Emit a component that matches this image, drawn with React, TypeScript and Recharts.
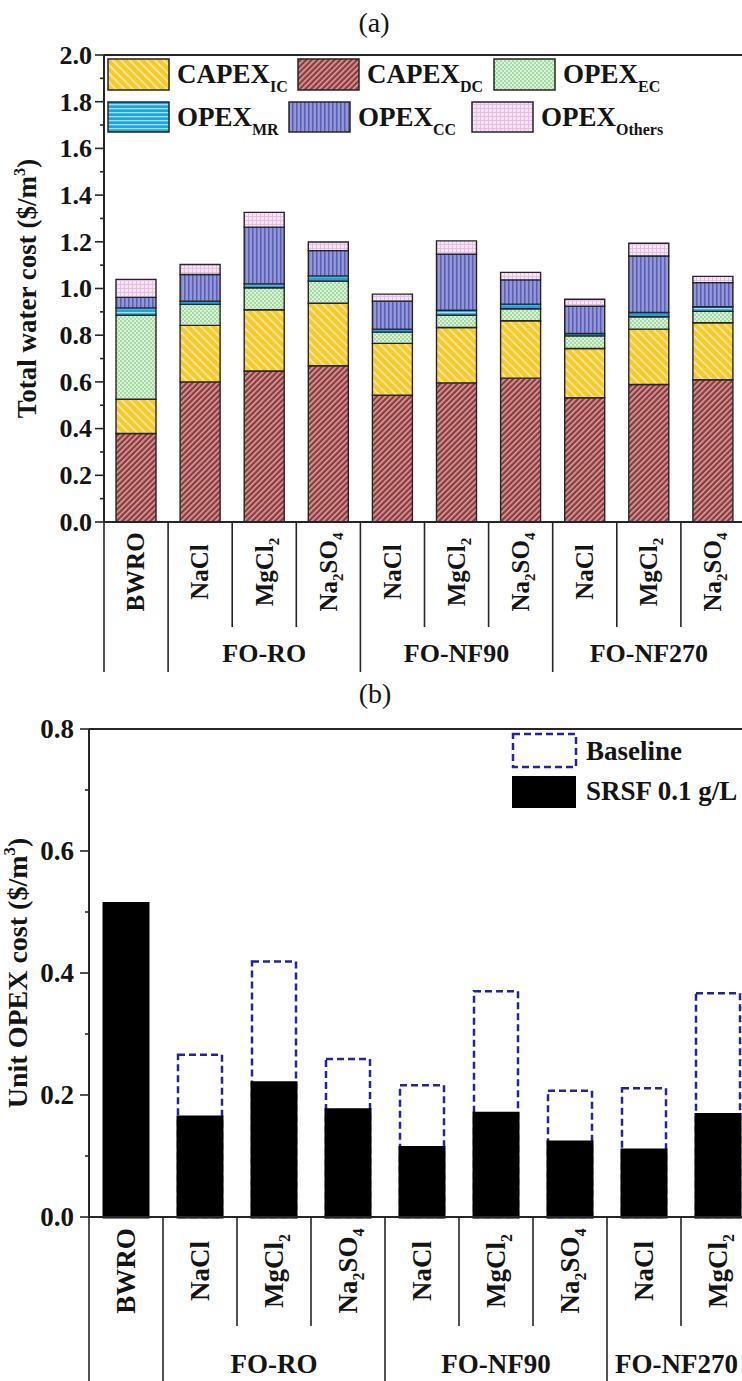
import React from 'react';
import { BarChart, Bar, XAxis, YAxis, ReferenceLine, Legend } from 'recharts';

const FONT = "'Liberation Serif', 'Times New Roman', Times, serif";
const INK = '#141414';
const LINE = '#262626';

// ---------------- data ----------------
const categories = ['BWRO', 'NaCl', 'MgCl2', 'Na2SO4', 'NaCl', 'MgCl2', 'Na2SO4', 'NaCl', 'MgCl2', 'Na2SO4'];
const groupLabels = ['FO-RO', 'FO-NF90', 'FO-NF270'];
const groupStarts = [1, 4, 7];

// (a) total water cost, $/m3 (stack bottom -> top)
const capexDC = [0.379, 0.600, 0.647, 0.669, 0.543, 0.596, 0.616, 0.532, 0.589, 0.609];
const capexIC = [0.147, 0.242, 0.262, 0.268, 0.222, 0.237, 0.246, 0.211, 0.237, 0.244];
const opexEC = [0.360, 0.090, 0.094, 0.095, 0.048, 0.053, 0.051, 0.054, 0.053, 0.049];
const opexMR = [0.031, 0.014, 0.017, 0.022, 0.013, 0.021, 0.020, 0.010, 0.018, 0.020];
const opexCC = [0.045, 0.114, 0.243, 0.108, 0.120, 0.240, 0.104, 0.117, 0.242, 0.103];
const opexOthers = [0.077, 0.043, 0.063, 0.037, 0.030, 0.057, 0.032, 0.030, 0.055, 0.027];

// (b) unit OPEX cost, $/m3
const opexBaseline = [null, 0.266, 0.419, 0.259, 0.216, 0.370, 0.207, 0.211, 0.367, 0.208];
const opexSRSF = [0.514, 0.164, 0.220, 0.176, 0.114, 0.170, 0.123, 0.110, 0.168, 0.122];

const yTicksA = [0.0, 0.1, 0.2, 0.3, 0.4, 0.5, 0.6, 0.7, 0.8, 0.9, 1.0, 1.1, 1.2, 1.3, 1.4, 1.5, 1.6, 1.7, 1.8, 1.9, 2.0];
const yTicksB = [0.0, 0.1, 0.2, 0.3, 0.4, 0.5, 0.6, 0.7, 0.8];

const seriesA = [
  { key: 'capexDC', main: 'CAPEX', sub: 'DC', pat: 'pat-dc' },
  { key: 'capexIC', main: 'CAPEX', sub: 'IC', pat: 'pat-ic' },
  { key: 'opexEC', main: 'OPEX', sub: 'EC', pat: 'pat-ec' },
  { key: 'opexMR', main: 'OPEX', sub: 'MR', pat: 'pat-mr' },
  { key: 'opexCC', main: 'OPEX', sub: 'CC', pat: 'pat-cc' },
  { key: 'opexOthers', main: 'OPEX', sub: 'Others', pat: 'pat-ot' },
];
const legendOrderA = ['capexIC', 'capexDC', 'opexEC', 'opexMR', 'opexCC', 'opexOthers'];

const dataA = categories.map((c, i) => ({
  id: `a${i}`,
  capexDC: capexDC[i],
  capexIC: capexIC[i],
  opexEC: opexEC[i],
  opexMR: opexMR[i],
  opexCC: opexCC[i],
  opexOthers: opexOthers[i],
}));
const dataB = categories.map((c, i) => ({ id: `b${i}`, baseline: opexBaseline[i], srsf: opexSRSF[i] }));

// ---------------- layout ----------------
const N = categories.length;
const A = { top: 55, left: 104, band: 64.1, plotH: 467, xAxisH: 150 };
const A_W = A.left + A.band * N + 12;
const A_H = A.top + A.plotH + A.xAxisH + 8;
const B = { offsetTop: 690, top: 39, left: 89, band: 74, plotH: 488, xAxisH: 180 };
const B_W = B.left + B.band * N + 12;
const B_H = B.top + B.plotH + B.xAxisH + 5;

// legend slots (chart-relative)
const legendSlotsA = [
  { x: 108, y: 59, h: 31 },
  { x: 298, y: 59, h: 31 },
  { x: 494, y: 59, h: 31 },
  { x: 108, y: 102, h: 30 },
  { x: 289, y: 102, h: 30 },
  { x: 472, y: 102, h: 30 },
];

// ---------------- helpers ----------------
function formulaSpans(text: string, subSize: number, subDy: number) {
  const parts = text.match(/[^\d]+|\d+/g) || [text];
  let down = false;
  return parts.map((p, i) => {
    const isSub = /^\d+$/.test(p);
    let dy: number | undefined;
    if (isSub && !down) { dy = subDy; down = true; }
    else if (!isSub && down) { dy = -subDy; down = false; }
    return (
      <tspan key={i} dy={dy} fontSize={isSub ? subSize : undefined}>{p}</tspan>
    );
  });
}

type XCfg = {
  band: number; labelOffset: number; fs: number; subFs: number; subDy: number;
  shortLen: number; longLen: number; groupFs: number; groupBaseline: number; lastGroupStart: boolean;
};

const makeXTick = (cfg: XCfg) => (props: any) => {
  const { x, y, index } = props;
  const half = cfg.band / 2;
  const isBoundary = (k: number) => k === 0 || k === N || groupStarts.includes(k);
  const label = categories[index] ?? '';
  const gi = groupStarts.findIndex((s) => s + 1 === index);
  const cy = y + cfg.labelOffset;
  let groupEl = null;
  if (gi >= 0) {
    const startMode = cfg.lastGroupStart && gi === groupLabels.length - 1;
    groupEl = (
      <text
        x={startMode ? x - 1.5 * cfg.band + 8 : x}
        y={y + cfg.groupBaseline}
        textAnchor={startMode ? 'start' : 'middle'}
        fontFamily={FONT}
        fontWeight={700}
        fontSize={cfg.groupFs}
        fill={INK}
      >
        {groupLabels[gi]}
      </text>
    );
  }
  return (
    <g>
      <line
        x1={x - half} x2={x - half} y1={y}
        y2={y + (isBoundary(index) ? cfg.longLen : cfg.shortLen)}
        stroke={LINE} strokeWidth={1.6}
      />
      {index === N - 1 && (
        <line x1={x + half} x2={x + half} y1={y} y2={y + cfg.longLen} stroke={LINE} strokeWidth={1.6} />
      )}
      <g transform={`translate(${x + 0.33 * cfg.fs}, ${cy}) rotate(-90)`}>
        <text x={0} y={0} textAnchor="middle" fontFamily={FONT} fontWeight={700} fontSize={cfg.fs} fill={INK}>
          {formulaSpans(label, cfg.subFs, cfg.subDy)}
        </text>
      </g>
      {groupEl}
    </g>
  );
};

type YCfg = { majorLen: number; minorLen: number; labelGap: number; fs: number };
const makeYTick = (cfg: YCfg) => (props: any) => {
  const { x, y, payload } = props;
  const v = Number(payload.value);
  const major = Math.round(v * 10) % 2 === 0;
  return (
    <g>
      <line x1={x - (major ? cfg.majorLen : cfg.minorLen)} x2={x} y1={y} y2={y} stroke={LINE} strokeWidth={1.6} />
      {major && (
        <text x={x - cfg.labelGap} y={y} dy="0.34em" textAnchor="end" fontFamily={FONT} fontWeight={700} fontSize={cfg.fs} fill={INK}>
          {v.toFixed(1)}
        </text>
      )}
    </g>
  );
};

type TCfg = { text: string; titleX: number; fs: number; top: number; plotH: number };
const makeYTitle = (cfg: TCfg) => (props: any) => {
  const vb = (props && props.viewBox) || {};
  const top = typeof vb.y === 'number' ? vb.y : cfg.top;
  const h = typeof vb.height === 'number' && vb.height > 0 ? vb.height : cfg.plotH;
  const cy = top + h / 2;
  const supDy = 0.42 * cfg.fs;
  return (
    <g transform={`translate(${cfg.titleX + 0.33 * cfg.fs}, ${cy}) rotate(-90)`}>
      <text x={0} y={0} textAnchor="middle" fontFamily={FONT} fontWeight={700} fontSize={cfg.fs} fill={INK}>
        <tspan>{cfg.text}</tspan>
        <tspan dy={-supDy} fontSize={cfg.fs * 0.6}>3</tspan>
        <tspan dy={supDy}>)</tspan>
      </text>
    </g>
  );
};

const LegendA = () => (
  <svg width={742} height={140} style={{ display: 'block', overflow: 'visible' }}>
    {legendOrderA.map((k, i) => {
      const s = seriesA.find((d) => d.key === k)!;
      const slot = legendSlotsA[i];
      return (
        <g key={k}>
          <rect x={slot.x} y={slot.y} width={61} height={slot.h} fill={`url(#${s.pat})`} stroke={LINE} strokeWidth={1.5} />
          <text x={slot.x + 69} y={slot.y + 24} fontFamily={FONT} fontWeight={700} fontSize={27} fill={INK}>
            <tspan>{s.main}</tspan>
            <tspan dy={9} fontSize={16}>{s.sub}</tspan>
          </text>
        </g>
      );
    })}
  </svg>
);

const LegendB = () => (
  <svg width={742} height={140} style={{ display: 'block', overflow: 'visible' }}>
    <rect x={513} y={44} width={63} height={33} fill="none" stroke="#23239e" strokeWidth={2.5} strokeDasharray="7 4" />
    <text x={586} y={70} fontFamily={FONT} fontWeight={700} fontSize={27} fill={INK}>Baseline</text>
    <rect x={512} y={86} width={64} height={32} fill="#000" />
    <text x={586} y={110} fontFamily={FONT} fontWeight={700} fontSize={27} fill={INK}>SRSF 0.1 g/L</text>
  </svg>
);

const Patterns = () => (
  <defs>
    <pattern id="pat-dc" patternUnits="userSpaceOnUse" width="4" height="4" patternTransform="rotate(45)">
      <rect width="4" height="4" fill="#8c3b3d" />
      <rect width="1.6" height="4" fill="#dca2a2" />
    </pattern>
    <pattern id="pat-ic" patternUnits="userSpaceOnUse" width="6" height="6" patternTransform="rotate(-45)">
      <rect width="6" height="6" fill="#f7ca2c" />
      <rect width="2" height="6" fill="#fce48e" />
    </pattern>
    <pattern id="pat-ec" patternUnits="userSpaceOnUse" width="4" height="4">
      <rect width="4" height="4" fill="#d7f2d5" />
      <rect width="2" height="2" fill="#a6d9a3" />
      <rect x="2" y="2" width="2" height="2" fill="#a6d9a3" />
    </pattern>
    <pattern id="pat-mr" patternUnits="userSpaceOnUse" width="4" height="4">
      <rect width="4" height="4" fill="#1ba4df" />
      <rect width="4" height="1.3" fill="#a3def6" />
    </pattern>
    <pattern id="pat-cc" patternUnits="userSpaceOnUse" width="4" height="4">
      <rect width="4" height="4" fill="#9397da" />
      <rect width="1.5" height="4" fill="#5a5eb2" />
    </pattern>
    <pattern id="pat-ot" patternUnits="userSpaceOnUse" width="4" height="4">
      <rect width="4" height="4" fill="#f7e3f5" />
      <rect width="4" height="1" fill="#e3bfe1" />
      <rect width="1" height="4" fill="#e3bfe1" />
    </pattern>
  </defs>
);

const axisLineStyle = { stroke: LINE, strokeWidth: 2 };

function PanelA() {
  return (
    <BarChart width={A_W} height={A_H} data={dataA} margin={{ top: A.top, right: 12, bottom: 8, left: 0 }} barSize={40}>
      <XAxis
        dataKey="id" interval={0} tickSize={0} tickMargin={0} tickLine={false}
        axisLine={axisLineStyle} height={A.xAxisH}
        tick={makeXTick({ band: A.band, labelOffset: 50, fs: 25, subFs: 15, subDy: 6, shortLen: 105, longLen: 150, groupFs: 26, groupBaseline: 140, lastGroupStart: false })}
      />
      <YAxis
        type="number" domain={[0, 2]} ticks={yTicksA} interval={0} width={A.left}
        tickSize={0} tickMargin={0} tickLine={false} axisLine={axisLineStyle}
        tick={makeYTick({ majorLen: 9, minorLen: 4, labelGap: 12, fs: 26 })}
        label={makeYTitle({ text: 'Total water cost ($/m', titleX: 27, fs: 27, top: A.top, plotH: A.plotH })}
      />
      <ReferenceLine y={2} stroke={LINE} strokeWidth={2} />
      <Legend
        layout="vertical" align="center" verticalAlign="middle"
        wrapperStyle={{ left: 0, top: 0, width: 742, height: 140 }}
        content={LegendA}
      />
      {seriesA.map((s) => (
        <Bar key={s.key} dataKey={s.key} stackId="cost" fill={`url(#${s.pat})`} stroke={LINE} strokeWidth={1.4} isAnimationActive={false} />
      ))}
    </BarChart>
  );
}

function PanelB() {
  return (
    <BarChart width={B_W} height={B_H} data={dataB} margin={{ top: B.top, right: 12, bottom: 5, left: 0 }} barSize={44} barGap={-44}>
      <XAxis
        dataKey="id" interval={0} tickSize={0} tickMargin={0} tickLine={false}
        axisLine={axisLineStyle} height={B.xAxisH}
        tick={makeXTick({ band: B.band, labelOffset: 54, fs: 27, subFs: 16, subDy: 7, shortLen: 109, longLen: 180, groupFs: 27, groupBaseline: 156, lastGroupStart: true })}
      />
      <YAxis
        type="number" domain={[0, 0.8]} ticks={yTicksB} interval={0} width={B.left}
        tickSize={0} tickMargin={0} tickLine={false} axisLine={axisLineStyle}
        tick={makeYTick({ majorLen: 9, minorLen: 4, labelGap: 15, fs: 27 })}
        label={makeYTitle({ text: 'Unit OPEX cost ($/m', titleX: 18, fs: 28, top: B.top, plotH: B.plotH })}
      />
      <ReferenceLine y={0.8} stroke={LINE} strokeWidth={2} />
      <Legend
        layout="vertical" align="center" verticalAlign="middle"
        wrapperStyle={{ left: 0, top: 0, width: 742, height: 140 }}
        content={LegendB}
      />
      <Bar dataKey="baseline" fill="none" stroke="#23239e" strokeWidth={2.5} strokeDasharray="7 4" isAnimationActive={false} />
      <Bar dataKey="srsf" fill="#000" stroke="#000" strokeWidth={3} isAnimationActive={false} />
    </BarChart>
  );
}

export default function App() {
  return (
    <div style={{ position: 'absolute', left: 0, top: 0, width: 742, height: 1381, overflow: 'hidden', background: '#fff' }}>
      <svg width={0} height={0} style={{ position: 'absolute', left: 0, top: 0 }}>
        <Patterns />
      </svg>
      <div style={{ position: 'absolute', left: 0, top: 0 }}>
        <PanelA />
      </div>
      <div style={{ position: 'absolute', left: 0, top: B.offsetTop }}>
        <PanelB />
      </div>
      <svg width={742} height={1381} style={{ position: 'absolute', left: 0, top: 0, pointerEvents: 'none' }}>
        <text x={374} y={32} textAnchor="middle" fontFamily={FONT} fontSize={28} fill={INK}>(a)</text>
        <text x={375} y={703} textAnchor="middle" fontFamily={FONT} fontSize={28} fill={INK}>(b)</text>
      </svg>
    </div>
  );
}
